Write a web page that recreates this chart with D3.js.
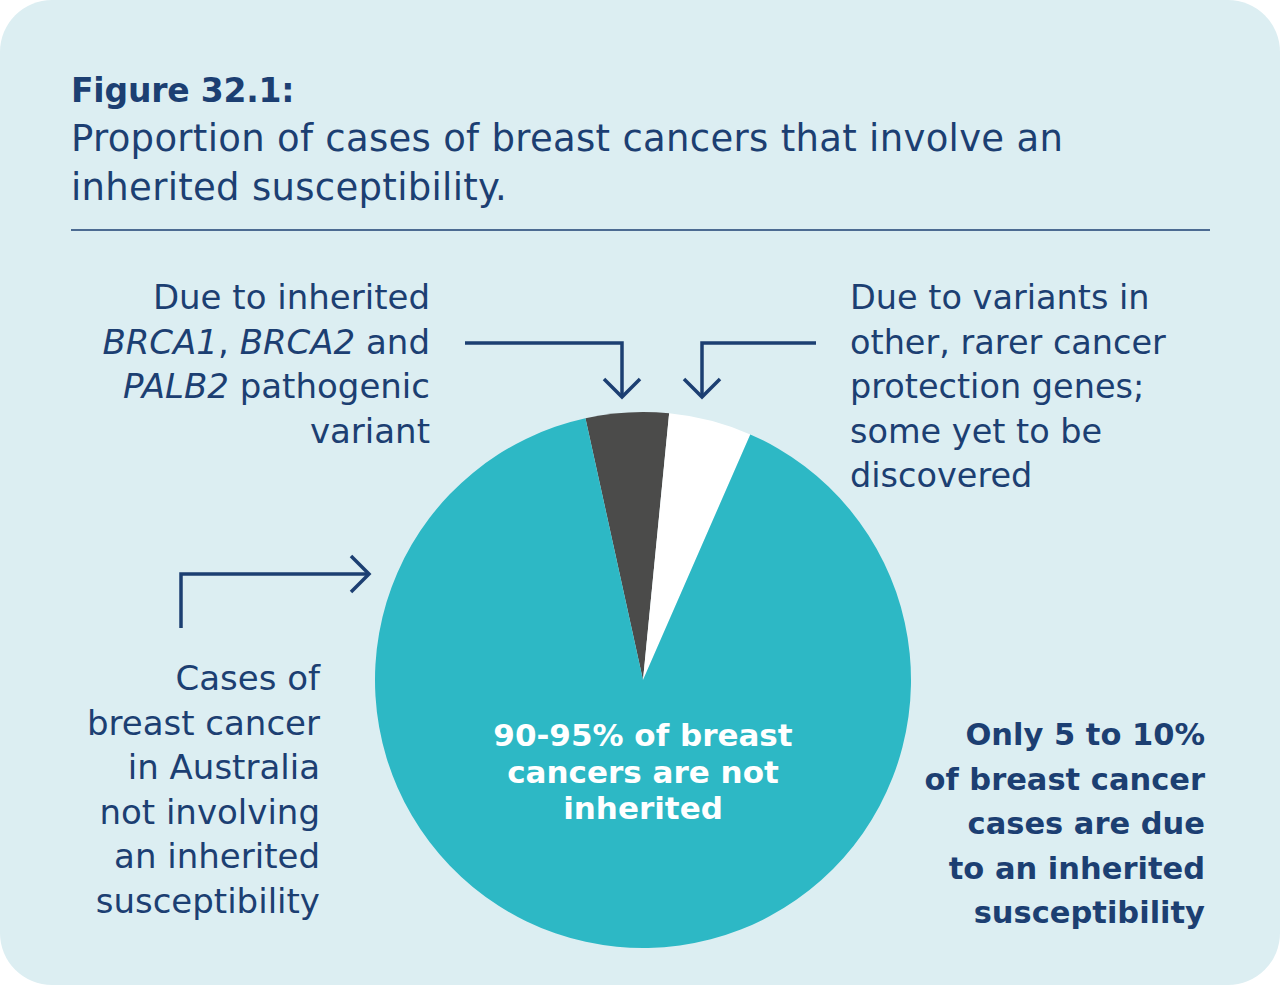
<!DOCTYPE html>
<html>
<head>
<meta charset="utf-8">
<script src="https://cdn.jsdelivr.net/npm/d3@7"></script>
<style>
  html, body { margin: 0; padding: 0; background: #ffffff; }
  svg { display: block; }
  text { font-family: "DejaVu Sans", "Noto Sans", sans-serif; fill: #1c3f72; }
</style>
</head>
<body>
<div id="chart"></div>
<script>
// --- Data ---
const sliceLabels = ["BRCA1/BRCA2/PALB2", "Other rarer genes", "Not inherited"];
const sliceValues = [5, 5, 90];
const sliceColors = ["#4b4b4a", "#ffffff", "#2db8c5"];

const titleLines = ["Proportion of cases of breast cancers that involve an", "inherited susceptibility."];
const leftTopLines = [
  [{ t: "Due to inherited" }],
  [{ t: "BRCA1", i: true }, { t: ", " }, { t: "BRCA2", i: true }, { t: " and" }],
  [{ t: "PALB2", i: true }, { t: " pathogenic" }],
  [{ t: "variant" }]
];
const rightTopLines = ["Due to variants in", "other, rarer cancer", "protection genes;", "some yet to be", "discovered"];
const leftBottomLines = ["Cases of", "breast cancer", "in Australia", "not involving", "an inherited", "susceptibility"];
const rightBottomLines = ["Only 5 to 10%", "of breast cancer", "cases are due", "to an inherited", "susceptibility"];
const centerLines = ["90-95% of breast", "cancers are not", "inherited"];

const W = 1280, H = 986;
const navy = "#1c3f72";

const svg = d3.select("#chart").append("svg")
  .attr("width", W).attr("height", H);

// card background
svg.append("rect")
  .attr("x", 0).attr("y", 0)
  .attr("width", W).attr("height", H - 1)
  .attr("rx", 52).attr("ry", 52)
  .attr("fill", "#dceef2");

// --- Title ---
svg.append("text")
  .attr("x", 71).attr("y", 102)
  .attr("font-size", 33).attr("font-weight", 700)
  .attr("letter-spacing", -0.2)
  .text("Figure 32.1:");

svg.append("g").selectAll("text")
  .data(titleLines)
  .join("text")
  .attr("x", 71)
  .attr("y", (d, i) => 151 + i * 49)
  .attr("font-size", 37)
  .attr("letter-spacing", 0.3)
  .text(d => d);

svg.append("line")
  .attr("x1", 71).attr("x2", 1210)
  .attr("y1", 230).attr("y2", 230)
  .attr("stroke", navy).attr("stroke-width", 1.5);

// --- Pie ---
const cx = 643, cy = 680, r = 268;
const startA = -12.4 * Math.PI / 180;
const pie = d3.pie().sort(null).value(d => d)
  .startAngle(startA).endAngle(startA + 2 * Math.PI);
const arc = d3.arc().innerRadius(0).outerRadius(r);

svg.append("g")
  .attr("transform", `translate(${cx},${cy})`)
  .selectAll("path")
  .data(pie(sliceValues))
  .join("path")
  .attr("d", arc)
  .attr("fill", (d, i) => sliceColors[i]);

// --- Labels ---
function block(lines, x, y0, step, anchor, opts) {
  const g = svg.append("g");
  g.selectAll("text")
    .data(lines)
    .join("text")
    .attr("x", x)
    .attr("y", (d, i) => y0 + i * step)
    .attr("text-anchor", anchor)
    .attr("font-size", opts.size)
    .attr("font-weight", opts.weight || 400)
    .attr("letter-spacing", opts.ls || 0)
    .style("fill", opts.fill || navy)
    .each(function(d) {
      const t = d3.select(this);
      if (typeof d === "string") { t.text(d); return; }
      d.forEach(p => {
        t.append("tspan")
          .attr("font-style", p.i ? "italic" : "normal")
          .text(p.t);
      });
    });
}

block(leftTopLines, 430, 309, 44.5, "end", { size: 34 });
block(rightTopLines, 850, 309, 44.5, "start", { size: 33.5 });
block(leftBottomLines, 320, 690, 44.6, "end", { size: 34 });
block(rightBottomLines, 1205, 745, 44.6, "end", { size: 30.5, weight: 700 });
block(centerLines, cx, 746, 36.6, "middle", { size: 31, weight: 700, fill: "#ffffff" });

// --- Arrows ---
const arrowG = svg.append("g")
  .attr("fill", "none")
  .attr("stroke", navy)
  .attr("stroke-width", 3.5);

const arrows = [
  { path: [[465, 343], [622, 343], [622, 397]], head: [[604, 379], [622, 397], [640, 379]] },
  { path: [[816, 343], [702, 343], [702, 397]], head: [[684, 379], [702, 397], [720, 379]] },
  { path: [[181, 628], [181, 574], [369, 574]], head: [[351, 556], [369, 574], [351, 592]] }
];
const lineGen = d3.line();
arrows.forEach(a => {
  arrowG.append("path").attr("d", lineGen(a.path));
  arrowG.append("path").attr("d", lineGen(a.head));
});
</script>
</body>
</html>
